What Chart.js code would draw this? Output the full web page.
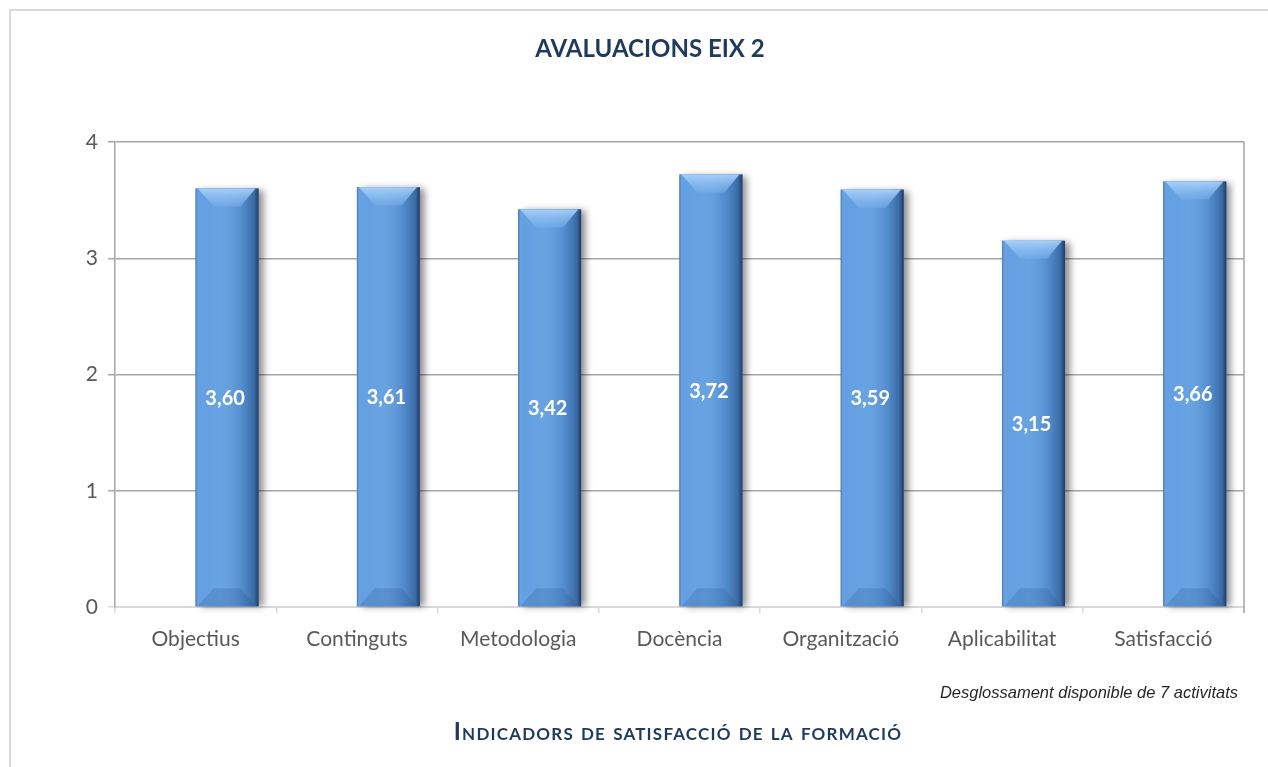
<!DOCTYPE html>
<html>
<head>
<meta charset="utf-8">
<script src="https://cdn.jsdelivr.net/npm/chart.js@4/dist/chart.umd.min.js"></script>
<style>
  body { margin: 0; background: #fff; }
  #wrap { position: relative; width: 1268px; height: 767px; overflow: hidden; }
  #frame { position: absolute; left: 9px; top: 9px; width: 1300px; height: 800px;
           border-left: 2px solid #d9d9d9; border-top: 2px solid #d9d9d9; }
  canvas { position: absolute; left: 0; top: 0; }
  .txt { position: absolute; white-space: nowrap; transform: translate(-50%, -50%); }
  #title { left: 650px; top: 47px; font: bold 24px Lato, sans-serif; color: #1f3a5c; }
  #xtitle { left: 678px; top: 730px; font: bold 24px Lato, sans-serif; font-variant: small-caps;
            color: #1f3a5c; letter-spacing: 1.2px; }
  #note { right: 30px; top: 683px; font: italic 16.5px "Liberation Sans", Arial, sans-serif; color: #262626; }
</style>
</head>
<body>
<div id="wrap">
  <div id="frame"></div>
  <canvas id="chart" width="1268" height="767"></canvas>
  <div id="title" class="txt">AVALUACIONS EIX 2</div>
  <div id="xtitle" class="txt">Indicadors de satisfacció de la formació</div>
  <div id="note" style="position:absolute;">Desglossament disponible de 7 activitats</div>
</div>
<script>
// chart data
var categories = ['Objectius', 'Continguts', 'Metodologia', 'Docència', 'Organització', 'Aplicabilitat', 'Satisfacció'];
var values = [3.60, 3.61, 3.42, 3.72, 3.59, 3.15, 3.66];
var yTicks = [0, 1, 2, 3, 4];

// empty slot so the bars sit right of the category centre, like the original
var spacer = categories.map(function () { return null; });

function barRects(chart) {
  var meta = chart.getDatasetMeta(1);
  return meta.data.map(function (bar) {
    var p = bar.getProps(['x', 'y', 'base', 'width'], true);
    return { l: p.x - p.width / 2, r: p.x + p.width / 2, top: p.y, base: p.base, x: p.x };
  });
}

// soft shadow behind each bar
var shadowPlugin = {
  id: 'shadow',
  beforeDatasetsDraw: function (chart) {
    var ctx = chart.ctx;
    ctx.save();
    ctx.shadowColor = 'rgba(0,0,0,0.45)';
    ctx.shadowBlur = 7;
    ctx.shadowOffsetX = 5;
    ctx.shadowOffsetY = 1;
    barRects(chart).forEach(function (b) {
      ctx.fillStyle = '#4a7fc2';
      ctx.fillRect(b.l, b.top, b.r - b.l, b.base - b.top);
    });
    ctx.restore();
  }
};

// bevel shading and value labels on top of the bars
var bevelPlugin = {
  id: 'bevel',
  afterDatasetsDraw: function (chart) {
    var ctx = chart.ctx;
    var bv = 18;
    ctx.save();
    barRects(chart).forEach(function (b, i) {
      var w = b.r - b.l;
      // horizontal shading
      var g = ctx.createLinearGradient(b.l, 0, b.r, 0);
      g.addColorStop(0, 'rgba(30,70,130,0.45)');
      g.addColorStop(0.06, 'rgba(255,255,255,0.05)');
      g.addColorStop(0.4, 'rgba(255,255,255,0.08)');
      g.addColorStop(0.75, 'rgba(30,60,110,0.18)');
      g.addColorStop(0.93, 'rgba(20,45,90,0.45)');
      g.addColorStop(1, 'rgba(10,25,55,0.75)');
      ctx.fillStyle = g;
      ctx.fillRect(b.l, b.top, w, b.base - b.top);
      // top bevel
      var gt = ctx.createLinearGradient(0, b.top, 0, b.top + bv);
      gt.addColorStop(0, 'rgba(170,210,250,0.95)');
      gt.addColorStop(1, 'rgba(120,175,235,0.55)');
      ctx.fillStyle = gt;
      ctx.beginPath();
      ctx.moveTo(b.l + 2, b.top);
      ctx.lineTo(b.r - 3, b.top);
      ctx.lineTo(b.r - bv, b.top + bv);
      ctx.lineTo(b.l + bv, b.top + bv);
      ctx.closePath();
      ctx.fill();
      // bottom bevel
      ctx.fillStyle = 'rgba(35,75,135,0.2)';
      ctx.beginPath();
      ctx.moveTo(b.l + 2, b.base);
      ctx.lineTo(b.r - 3, b.base);
      ctx.lineTo(b.r - bv, b.base - bv);
      ctx.lineTo(b.l + bv, b.base - bv);
      ctx.closePath();
      ctx.fill();
      // value label
      ctx.fillStyle = '#ffffff';
      ctx.font = 'bold 20px Lato, sans-serif';
      ctx.textAlign = 'center';
      ctx.textBaseline = 'middle';
      ctx.fillText(values[i].toFixed(2).replace('.', ','), b.x - 2, (b.top + b.base) / 2 + 1);
    });
    // right plot border
    var a = chart.chartArea;
    ctx.strokeStyle = '#a6a6a6';
    ctx.lineWidth = 1.5;
    ctx.beginPath();
    ctx.moveTo(a.right, a.top);
    ctx.lineTo(a.right, a.bottom + 6);
    ctx.stroke();
    ctx.restore();
  }
};

var ctx = document.getElementById('chart').getContext('2d');
var chart = new Chart(ctx, {
  type: 'bar',
  data: {
    labels: categories,
    datasets: [{
      data: spacer,
      backgroundColor: 'rgba(0,0,0,0)'
    }, {
      data: values,
      backgroundColor: '#5b9be0'
    }]
  },
  options: {
    responsive: false,
    animation: false,
    categoryPercentage: 0.78,
    barPercentage: 1.0,
    layout: { padding: { left: 20, right: 24, top: 142, bottom: 0 } },
    plugins: {
      legend: { display: false },
      tooltip: { enabled: false },
      title: { display: false }
    },
    scales: {
      x: {
        afterFit: function (s) { s.height = 160; },
        grid: { drawOnChartArea: false, drawTicks: true, tickLength: 6, color: '#d9d9d9', lineWidth: 1.5 },
        border: { color: '#d9d9d9', width: 2 },
        ticks: { color: '#595959', font: { family: 'Lato, sans-serif', size: 21 }, padding: 14 }
      },
      y: {
        min: 0,
        max: 4,
        afterFit: function (s) { s.width = 95; },
        afterBuildTicks: function (s) { s.ticks = yTicks.map(function (v) { return { value: v }; }); },
        grid: {
          color: function (c) { return c.tick && c.tick.value === 0 ? '#d9d9d9' : '#a6a6a6'; },
          lineWidth: 1.5,
          tickLength: 7
        },
        border: { color: '#a6a6a6', width: 1.5 },
        ticks: { color: '#595959', font: { family: 'Lato, sans-serif', size: 21 }, padding: 10 }
      }
    }
  },
  plugins: [shadowPlugin, bevelPlugin]
});
</script>
</body>
</html>
